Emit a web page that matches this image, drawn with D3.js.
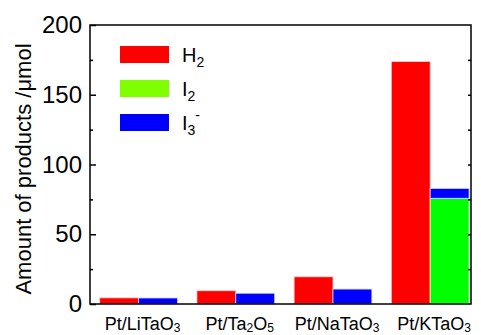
<!DOCTYPE html>
<html lang="en">
<head>
<meta charset="UTF-8">
<title>Amount of products</title>
<script src="https://d3js.org/d3.v7.min.js"></script>
<style>
  body { margin: 0; background: #fff; }
  text { font-family: "Liberation Sans", Arial, sans-serif; fill: #000; }
</style>
</head>
<body>
<svg id="chart" width="481" height="335"></svg>
<script>
// data (umol)
var catNames = ["Pt/LiTaO", "Pt/Ta", "Pt/NaTaO", "Pt/KTaO"];
var catSubs  = [["3"], ["2", "5"], ["3"], ["3"]];
var h2  = [4.4, 9.5, 19.5, 173.8];
var i2  = [0, 0, 0, 75.8];
var i3  = [4.3, 7.7, 10.7, 7.0];
var yTicks = [0, 50, 100, 150, 200];

var svg = d3.select("#chart");
var pL = 90, pR = 471, pT = 25, pB = 304;

var x = d3.scaleLinear().domain([0.5, 4.42]).range([pL, pR]);
var y = d3.scaleLinear().domain([0, 200]).range([pB, pT]);
var bw = x(0.4) - x(0);

var g = svg.append("g");

// H2 bars
g.selectAll("rect.h2").data(h2).enter().append("rect")
  .attr("x", function(d, i) { return x(i + 1) - bw; })
  .attr("y", function(d) { return y(d); })
  .attr("width", bw)
  .attr("height", function(d) { return y(0) - y(d); })
  .attr("fill", "#ff0000").attr("stroke", "#ffd0d0").attr("stroke-width", 0.8);

// I2 bars (bottom of the stack)
g.selectAll("rect.i2").data(i2).enter().append("rect")
  .attr("x", function(d, i) { return x(i + 1); })
  .attr("y", function(d) { return y(d); })
  .attr("width", bw)
  .attr("height", function(d) { return y(0) - y(d); })
  .attr("fill", "#00ff00").attr("stroke", "#d0ffd0").attr("stroke-width", 0.8)
  .style("display", function(d) { return d > 0 ? null : "none"; });

// I3- bars stacked on I2
g.selectAll("rect.i3").data(i3).enter().append("rect")
  .attr("x", function(d, i) { return x(i + 1); })
  .attr("y", function(d, i) { return y(i2[i] + d); })
  .attr("width", bw)
  .attr("height", function(d, i) { return y(i2[i]) - y(i2[i] + d); })
  .attr("fill", "#0000ff").attr("stroke", "#d0d0ff").attr("stroke-width", 0.8);

// axes
var yAxis = d3.axisLeft(y).tickValues(yTicks).tickSize(-6).tickPadding(8);
var ag = svg.append("g").attr("transform", "translate(" + pL + ",0)").call(yAxis);
ag.selectAll("text").style("font-size", "24px");
ag.select(".domain").remove();
var minor = d3.axisLeft(y).tickValues([25, 75, 125, 175]).tickSize(-3).tickFormat("");
svg.append("g").attr("transform", "translate(" + pL + ",0)").call(minor).select(".domain").remove();
var rAxis = d3.axisRight(y).tickValues(d3.range(25, 200, 25)).tickSize(-3).tickFormat("");
svg.append("g").attr("transform", "translate(" + pR + ",0)").call(rAxis).select(".domain").remove();
svg.selectAll(".tick line").attr("stroke-width", 1.5);

// frame
svg.append("rect").attr("x", pL).attr("y", pT)
  .attr("width", pR - pL).attr("height", pB - pT)
  .attr("fill", "none").attr("stroke", "#000").attr("stroke-width", 1.5);

// x labels
catNames.forEach(function(n, i) {
  var t = svg.append("text").attr("x", x(i + 1) + 4).attr("y", 330)
    .attr("text-anchor", "middle").style("font-size", "18px");
  if (catSubs[i].length === 2) {
    t.append("tspan").text(n);
    t.append("tspan").text(catSubs[i][0]).attr("dy", 2).style("font-size", "12px");
    t.append("tspan").text("O").attr("dy", -2);
    t.append("tspan").text(catSubs[i][1]).attr("dy", 2).style("font-size", "12px");
  } else {
    t.append("tspan").text(n);
    t.append("tspan").text(catSubs[i][0]).attr("dy", 2).style("font-size", "12px");
  }
});

// y label
svg.append("text")
  .attr("transform", "translate(31,169) rotate(-90)")
  .attr("text-anchor", "middle").style("font-size", "22px")
  .text("Amount of products /\u03bcmol");

// legend
var legColors = ["#ff0000", "#80ff00", "#0000ff"];
var legMain = ["H", "I", "I"];
var legSub = ["2", "2", "3"];
legColors.forEach(function(c, i) {
  var yy = 46 + i * 34;
  svg.append("rect").attr("x", 120).attr("y", yy).attr("width", 49).attr("height", 17).attr("fill", c);
  var t = svg.append("text").attr("x", 182).attr("y", yy + 16).style("font-size", "20px");
  t.append("tspan").text(legMain[i]);
  t.append("tspan").text(legSub[i]).attr("dy", 5).style("font-size", "14px");
  if (i === 2) t.append("tspan").text("-").attr("dy", -15).style("font-size", "14px");
});
</script>
</body>
</html>
